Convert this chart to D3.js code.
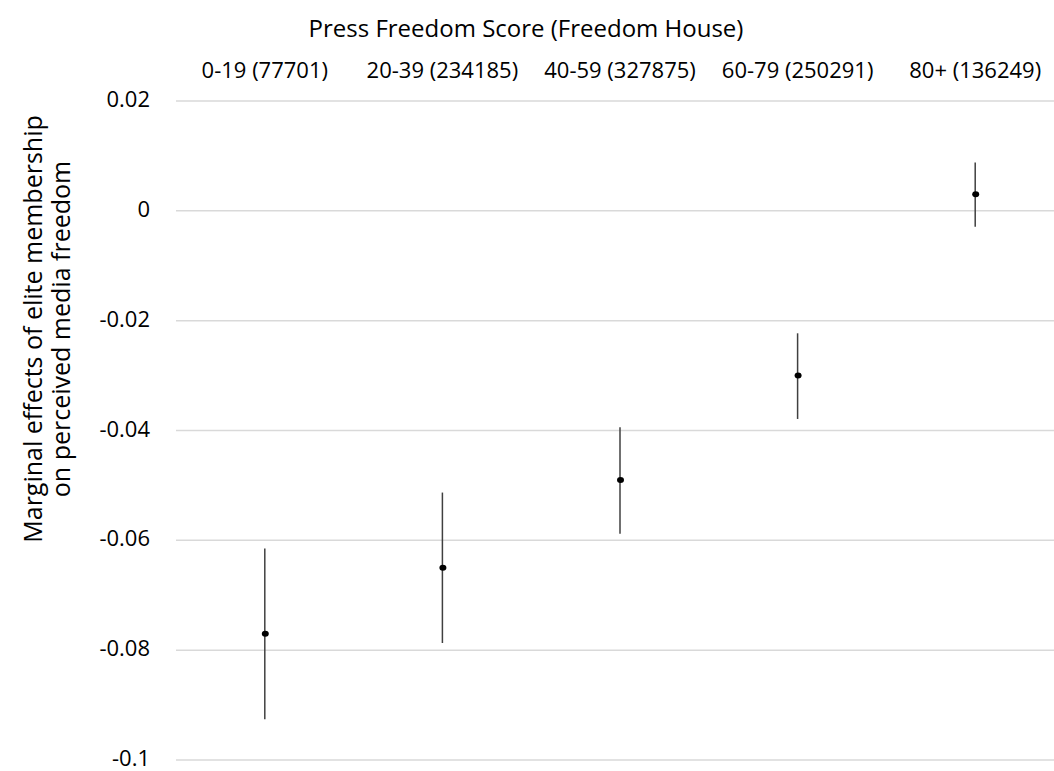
<!DOCTYPE html>
<html lang="en">
<head>
    <meta charset="UTF-8">
    <script src="https://cdn.jsdelivr.net/npm/d3@7"></script>
    <style>
        body { margin: 0; background: #fff; }
        text { font-family: "Open Sans", sans-serif; fill: #000; }
    </style>
</head>
<body>
<svg width="1054" height="771"></svg>
<script>
    // categories and estimates
    var categories = ["0-19 (77701)", "20-39 (234185)", "40-59 (327875)", "60-79 (250291)", "80+ (136249)"];
    var estimates = [-0.0770, -0.0650, -0.0490, -0.0300, 0.0030];
    var upper = [-0.0615, -0.0513, -0.0394, -0.0223, 0.0088];
    var lower = [-0.0926, -0.0787, -0.0588, -0.0379, -0.0029];
    var yTicks = [0.02, 0, -0.02, -0.04, -0.06, -0.08, -0.1];

    var svg = d3.select("svg");
    var margin = {top: 101, left: 176, bottom: 11};
    var plotW = 888;
    var height = 771;

    var x = d3.scaleBand()
        .domain(categories)
        .range([margin.left, margin.left + plotW]);

    var y = d3.scaleLinear()
        .domain([-0.1, 0.02])
        .range([height - margin.bottom, margin.top]);

    // grid lines
    svg.append("g")
        .selectAll("line")
        .data(yTicks)
        .enter()
        .append("line")
        .attr("x1", margin.left)
        .attr("x2", margin.left + plotW)
        .attr("y1", function (d) { return y(d); })
        .attr("y2", function (d) { return y(d); })
        .attr("stroke", "#d9d9d9")
        .attr("stroke-width", 1.5);

    // y tick labels
    svg.append("g")
        .selectAll("text")
        .data(yTicks)
        .enter()
        .append("text")
        .attr("x", 150)
        .attr("y", function (d) { return y(d) + 6; })
        .attr("text-anchor", "end")
        .attr("font-size", 22)
        .text(function (d) { return d3.format("")(d).replace("−", "-"); });

    // category labels on top
    svg.append("g")
        .selectAll("text")
        .data(categories)
        .enter()
        .append("text")
        .attr("x", function (d) { return x(d) + x.bandwidth() / 2; })
        .attr("y", 78)
        .attr("text-anchor", "middle")
        .attr("font-size", 22)
        .text(function (d) { return d; });

    // title
    svg.append("text")
        .attr("x", 526)
        .attr("y", 37)
        .attr("text-anchor", "middle")
        .attr("font-size", 24)
        .text("Press Freedom Score (Freedom House)");

    // y axis title
    var yt = svg.append("text")
        .attr("transform", "translate(0,329) rotate(-90)")
        .attr("text-anchor", "middle")
        .attr("font-size", 25);
    yt.append("tspan").attr("x", 0).attr("y", 42).text("Marginal effects of elite membership");
    yt.append("tspan").attr("x", 0).attr("y", 70).text("on perceived media freedom");

    // error bars
    var idx = d3.range(categories.length);
    svg.append("g")
        .selectAll("line")
        .data(idx)
        .enter()
        .append("line")
        .attr("x1", function (i) { return x(categories[i]) + x.bandwidth() / 2; })
        .attr("x2", function (i) { return x(categories[i]) + x.bandwidth() / 2; })
        .attr("y1", function (i) { return y(upper[i]); })
        .attr("y2", function (i) { return y(lower[i]); })
        .attr("stroke", "#404040")
        .attr("stroke-width", 1.5);

    // point estimates
    svg.append("g")
        .selectAll("ellipse")
        .data(idx)
        .enter()
        .append("ellipse")
        .attr("cx", function (i) { return x(categories[i]) + x.bandwidth() / 2 + 0.5; })
        .attr("cy", function (i) { return y(estimates[i]); })
        .attr("rx", 3.5)
        .attr("ry", 3)
        .attr("fill", "#000");
</script>
</body>
</html>
